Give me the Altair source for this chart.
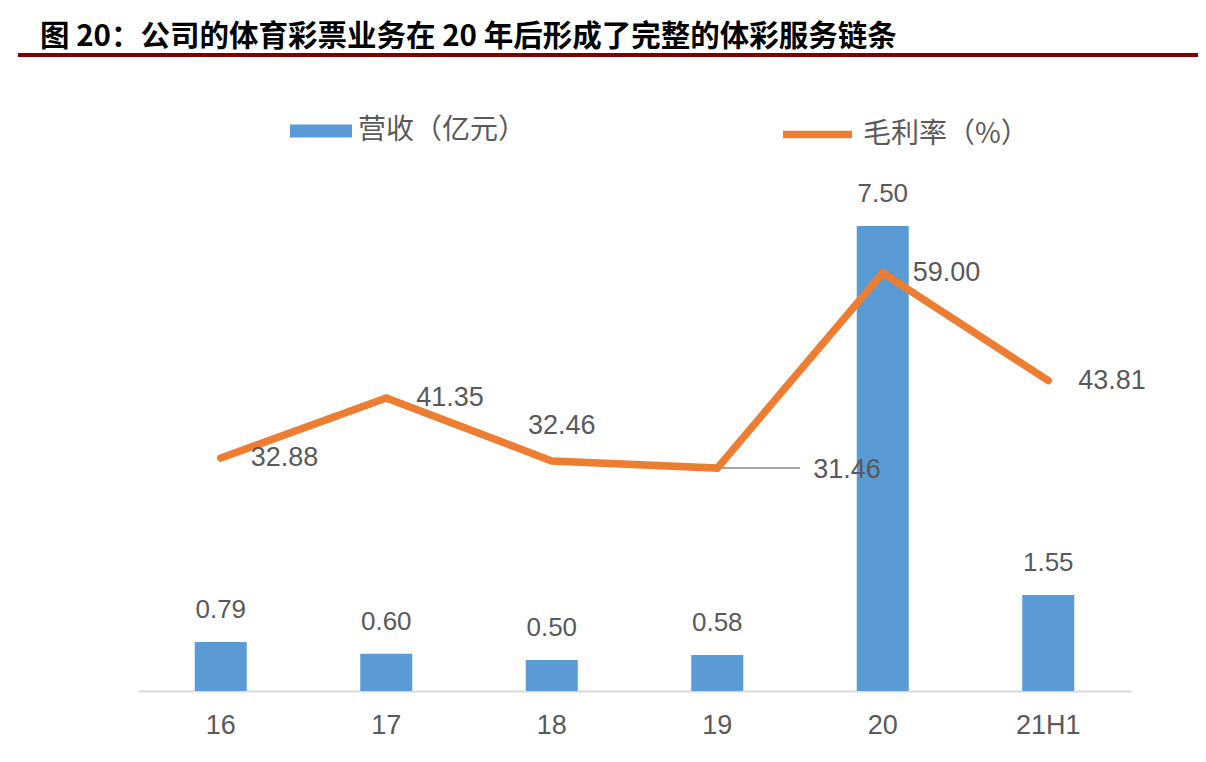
import altair as alt
import pandas as pd

years = ["16", "17", "18", "19", "20", "21H1"]
revenue = [0.79, 0.60, 0.50, 0.58, 7.50, 1.55]
margin = [32.88, 41.35, 32.46, 31.46, 59.00, 43.81]

df = pd.DataFrame({"year": years, "revenue": revenue, "margin": margin})
df["rev_label"] = df["revenue"].map("{:.2f}".format)
df["mar_label"] = df["margin"].map("{:.2f}".format)
df["rev_series"] = "营收（亿元）"
df["mar_series"] = "毛利率（%）"

gray = "#595959"
blue = "#5b9bd5"
orange = "#ed7d31"
num_font = "Liberation Sans"
cjk_font = "Noto Sans CJK SC"

x_enc = alt.X(
    "year:N", sort=years,
    scale=alt.Scale(paddingInner=0, paddingOuter=0),
    axis=alt.Axis(title=None, labelAngle=0, ticks=False, grid=False,
                  domainColor="#d9d9d9", domainWidth=2,
                  labelFont=num_font, labelFontSize=27, labelColor=gray,
                  labelPadding=21),
)

base = alt.Chart(df).encode(x=x_enc)

# bars (revenue) on their own scale
bars = base.mark_bar(width=52).encode(
    y=alt.Y("revenue:Q", scale=alt.Scale(domain=[0, 8]), axis=None),
    fill=alt.Fill("rev_series:N", scale=alt.Scale(range=[blue]),
                  legend=alt.Legend(title=None, orient="none", legendX=152, legendY=-95,
                                    symbolType="M-1,-0.21H1V0.21H-1Z", symbolSize=3844,
                                    symbolStrokeWidth=0, labelFont=cjk_font,
                                    labelFontSize=28, labelColor=gray, labelOffset=6,
                                    labelLimit=400, padding=0)),
)
bar_text = base.mark_text(dy=-24, baseline="alphabetic", font=num_font,
                          fontSize=26, color=gray).encode(
    y="revenue:Q", text="rev_label:N"
)
bar_layer = alt.layer(bars, bar_text)

# gross margin line
y_line = alt.Y("margin:Q", scale=alt.Scale(domain=[0, 70]), axis=None)

leader = base.mark_rule(color="#a6a6a6", strokeWidth=2).encode(
    x=alt.X("year:N", sort=years, bandPosition=0.5),
    x2=alt.X2("year:N", bandPosition=1),
    y=y_line,
).transform_filter(alt.FieldEqualPredicate(field="year", equal="19"))

line = base.mark_line(strokeWidth=7.5, strokeCap="round", strokeJoin="miter").encode(
    y=y_line,
    stroke=alt.Stroke("mar_series:N", scale=alt.Scale(range=[orange]),
                      legend=alt.Legend(title=None, orient="none", legendX=641, legendY=-99,
                                        symbolType="stroke", symbolSize=4761,
                                        symbolStrokeWidth=7.5, labelFont=cjk_font,
                                        labelFontSize=28, labelColor=gray, labelOffset=7,
                                        labelLimit=400, padding=0)),
)

txt = dict(font=num_font, fontSize=27, color=gray, baseline="middle")
right_lbl = base.mark_text(align="left", dx=30, **txt).encode(
    y=y_line, text="mar_label:N"
).transform_filter(alt.FieldOneOfPredicate(field="year", oneOf=["16", "17", "20", "21H1"]))
above_lbl = base.mark_text(align="center", dx=10, dy=-35, **txt).encode(
    y=y_line, text="mar_label:N"
).transform_filter(alt.FieldEqualPredicate(field="year", equal="18"))
far_lbl = base.mark_text(align="left", dx=96, dy=2, **txt).encode(
    y=y_line, text="mar_label:N"
).transform_filter(alt.FieldEqualPredicate(field="year", equal="19"))

line_layer = alt.layer(leader, line, right_lbl, above_lbl, far_lbl)

# dark red rule under the title
red_rule = alt.Chart(pd.DataFrame({"k": [0]})).mark_rule(
    color="#7f0000", strokeWidth=4
).encode(x=alt.value(-120), x2=alt.value(1070), y=alt.value(-140))

chart = alt.layer(bar_layer, line_layer, red_rule).resolve_scale(
    y="independent"
).properties(
    width=993,
    height=496,
    autosize=alt.AutoSizeParams(type="none"),
    padding={"left": 130, "top": 187, "right": 67, "bottom": 60},
    title=alt.TitleParams(
        "图 20：公司的体育彩票业务在 20 年后形成了完整的体彩服务链条",
        anchor="start", frame="group", dx=-98, offset=1,
        font=cjk_font, fontSize=29.5, fontWeight="bold", color="black",
    ),
).configure_view(stroke=None)

chart.save("out.html", embed_options={"renderer": "svg", "actions": False})
